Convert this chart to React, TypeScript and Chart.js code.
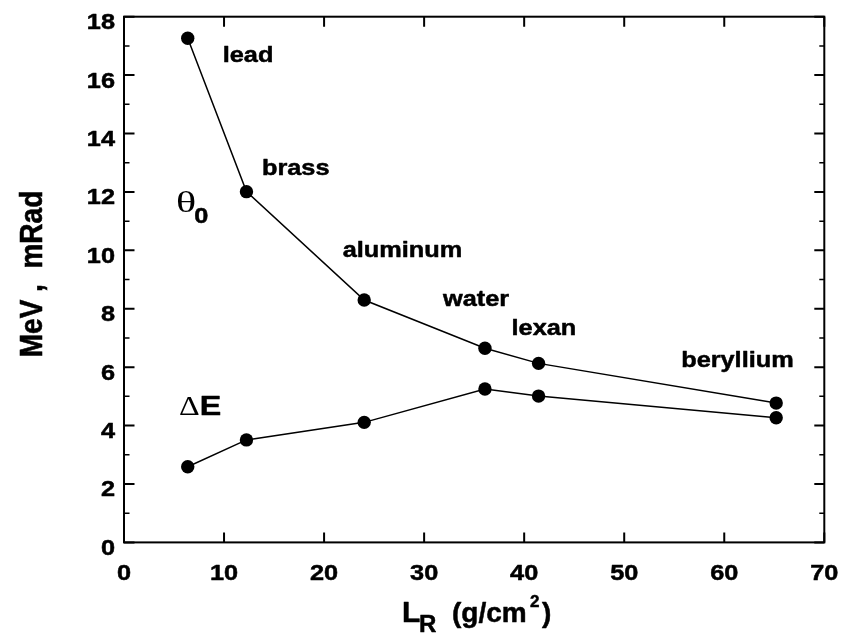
import React, { useEffect, useRef } from "react";
import { Chart, registerables } from "chart.js";

Chart.register(...registerables);

// Radiation length L_R (g/cm^2) of each absorber material
const MATERIALS = ["lead", "brass", "aluminum", "water", "lexan", "beryllium"];
const LR = [6.37, 12.24, 24.01, 36.08, 41.44, 65.19];
// Multiple-scattering angle theta_0 (mRad)
const THETA0 = [17.26, 12.01, 8.3, 6.65, 6.13, 4.77];
// Energy loss ΔE (MeV)
const DELTA_E = [2.59, 3.51, 4.11, 5.25, 5.01, 4.27];

const X_TICKS = [0, 10, 20, 30, 40, 50, 60, 70];
const Y_TICKS = [0, 2, 4, 6, 8, 10, 12, 14, 16, 18];
const Y_MINOR = [1, 3, 5, 7, 9, 11, 13, 15, 17];

// Material name placement relative to its theta_0 point (px: left, baseline)
const LABEL_OFFSETS: [number, number][] = [
  [35, 23.4],
  [15.5, -16.7],
  [-21.5, -43.3],
  [-42, -42.3],
  [-27, -28.3],
  [-95, -36],
];

const SANS = '"Liberation Sans", Arial, Helvetica, sans-serif';
const SERIF = '"Liberation Serif", "Times New Roman", serif';

function drawText(
  ctx: CanvasRenderingContext2D,
  text: string,
  x: number,
  y: number,
  font: string,
  align: CanvasTextAlign = "left",
  sx = 1.15,
  heavy = 0.5
): number {
  ctx.save();
  ctx.font = font;
  ctx.textAlign = align;
  ctx.textBaseline = "alphabetic";
  ctx.fillStyle = "#000";
  ctx.strokeStyle = "#000";
  ctx.translate(x, y);
  ctx.scale(sx, 1);
  ctx.fillText(text, 0, 0);
  if (heavy > 0) {
    ctx.lineWidth = heavy;
    ctx.lineJoin = "round";
    ctx.strokeText(text, 0, 0);
  }
  const w = ctx.measureText(text).width * sx;
  ctx.restore();
  return w;
}

const framePlugin = {
  id: "frameAndText",
  beforeDatasetsDraw(chart: any) {
    const { ctx, chartArea } = chart;
    const { left, right, top, bottom } = chartArea;
    const xs = chart.scales.x;
    const ys = chart.scales.y;
    ctx.save();
    ctx.strokeStyle = "#000";
    ctx.lineCap = "butt";
    // inward ticks on all four sides
    ctx.lineWidth = 2;
    for (const v of X_TICKS) {
      const px = xs.getPixelForValue(v);
      ctx.beginPath();
      ctx.moveTo(px, bottom);
      ctx.lineTo(px, bottom - 10);
      ctx.moveTo(px, top);
      ctx.lineTo(px, top + 10);
      ctx.stroke();
    }
    for (const v of Y_TICKS) {
      const py = ys.getPixelForValue(v);
      ctx.beginPath();
      ctx.moveTo(left, py);
      ctx.lineTo(left + 10.5, py);
      ctx.moveTo(right, py);
      ctx.lineTo(right - 10, py);
      ctx.stroke();
    }
    ctx.lineWidth = 1.5;
    for (const v of Y_MINOR) {
      const py = ys.getPixelForValue(v);
      ctx.beginPath();
      ctx.moveTo(left, py);
      ctx.lineTo(left + 5.5, py);
      ctx.moveTo(right, py);
      ctx.lineTo(right - 5, py);
      ctx.stroke();
    }
    ctx.lineWidth = 2;
    ctx.strokeRect(left, top, right - left, bottom - top);
    ctx.restore();
  },
  afterDraw(chart: any) {
    const { ctx, chartArea } = chart;
    const { bottom } = chartArea;
    const xs = chart.scales.x;
    const ys = chart.scales.y;
    const tickFont = `bold 22px ${SANS}`;

    for (const v of X_TICKS) {
      drawText(ctx, String(v), xs.getPixelForValue(v), bottom + 38, tickFont, "center");
    }
    for (const v of Y_TICKS) {
      drawText(ctx, String(v), 115, ys.getPixelForValue(v) + 12.5, tickFont, "right");
    }

    // material names next to the theta_0 points
    const labelFont = `bold 22px ${SANS}`;
    MATERIALS.forEach((name, i) => {
      const px = xs.getPixelForValue(LR[i]);
      const py = ys.getPixelForValue(THETA0[i]);
      drawText(ctx, name, px + LABEL_OFFSETS[i][0], py + LABEL_OFFSETS[i][1], labelFont);
    });

    // curve names
    {
      const x0 = xs.getPixelForValue(5.2);
      const y0 = ys.getPixelForValue(11.32);
      const w = drawText(ctx, "θ", x0, y0, `29px ${SERIF}`, "left", 1.45, 0);
      drawText(ctx, "0", x0 + w - 2, y0 + 11, `bold 22px ${SANS}`);
    }
    {
      const x0 = xs.getPixelForValue(5.5);
      const y0 = ys.getPixelForValue(4.36);
      const w = drawText(ctx, "Δ", x0, y0, `28px ${SERIF}`, "left", 1.15, 0);
      drawText(ctx, "E", x0 + w, y0, `bold 28px ${SANS}`);
    }

    // x-axis title: L_R (g/cm^2)
    {
      const base = 621.5;
      drawText(ctx, "L", 402, base, `bold 30px ${SANS}`, "left", 1.0);
      drawText(ctx, "R", 419, base + 10, `bold 24px ${SANS}`, "left", 1.0);
      drawText(ctx, "(g/cm", 452, base, `bold 28px ${SANS}`, "left", 1.0);
      drawText(ctx, "2", 530, base - 15, `bold 17px ${SANS}`, "left", 1.0);
      drawText(ctx, ")", 542, base, `bold 28px ${SANS}`, "left", 1.0);
    }

    // y-axis title, rotated
    ctx.save();
    ctx.font = `bold 28px ${SANS}`;
    ctx.textAlign = "center";
    ctx.textBaseline = "alphabetic";
    ctx.fillStyle = "#000";
    ctx.strokeStyle = "#000";
    ctx.lineWidth = 0.5;
    ctx.translate(41.5, 274);
    ctx.scale(1.15, 1);
    ctx.rotate(-Math.PI / 2);
    ctx.fillText("MeV ,  mRad", 0, 0);
    ctx.strokeText("MeV ,  mRad", 0, 0);
    ctx.restore();
  },
};

export default function App() {
  const canvasRef = useRef<HTMLCanvasElement | null>(null);

  useEffect(() => {
    if (!canvasRef.current) return;
    const seriesStyle = {
      showLine: true,
      borderColor: "#000",
      backgroundColor: "#000",
      borderWidth: 1.5,
      pointRadius: 6.7,
      pointHoverRadius: 6.7,
      pointBorderWidth: 0,
      tension: 0,
      clip: false as const,
    };
    const chart = new Chart(canvasRef.current, {
      type: "scatter",
      data: {
        datasets: [
          {
            label: "θ0",
            data: LR.map((x, i) => ({ x, y: THETA0[i] })),
            ...seriesStyle,
          },
          {
            label: "ΔE",
            data: LR.map((x, i) => ({ x, y: DELTA_E[i] })),
            ...seriesStyle,
          },
        ],
      },
      options: {
        animation: false,
        responsive: false,
        devicePixelRatio: 1,
        layout: { padding: { left: 124, right: 21.7, top: 16.7, bottom: 91.6 } },
        plugins: {
          legend: { display: false },
          tooltip: { enabled: false },
        },
        scales: {
          x: { type: "linear", min: 0, max: 70, display: false },
          y: { type: "linear", min: 0, max: 18, display: false },
        },
      },
      plugins: [framePlugin],
    });
    return () => chart.destroy();
  }, []);

  return (
    <div style={{ position: "fixed", left: 0, top: 0, width: 846, height: 634, background: "#fff" }}>
      <canvas ref={canvasRef} width={846} height={634} style={{ display: "block" }} />
    </div>
  );
}
